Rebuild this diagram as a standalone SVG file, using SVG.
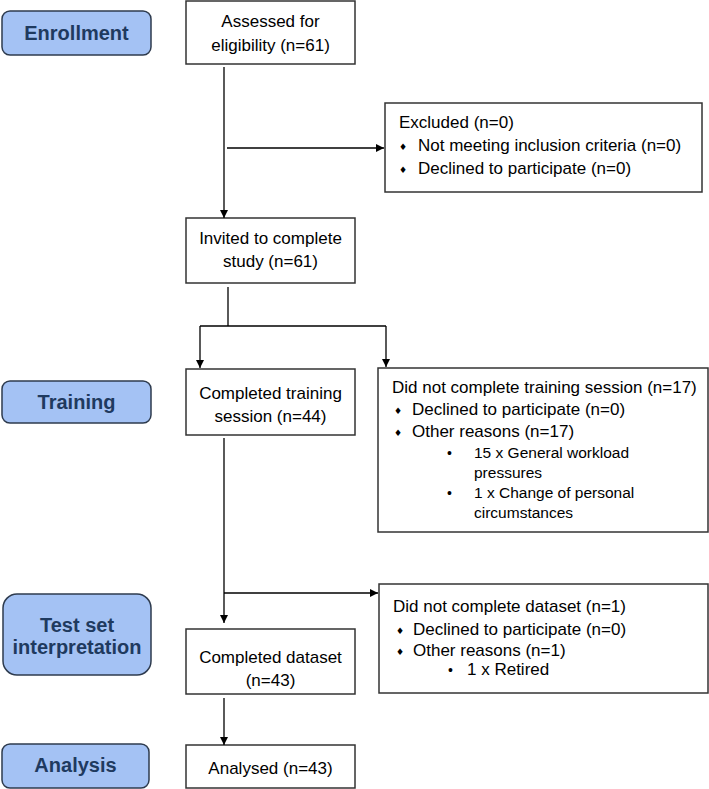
<svg xmlns="http://www.w3.org/2000/svg" width="709" height="789" viewBox="0 0 709 789">
<style>
.bg{fill:#ffffff}
.pill{fill:#a4c2f4;stroke:#2e3b4e;stroke-width:1.5}
.pt{font-family:"Liberation Sans",Arial,sans-serif;font-weight:bold;font-size:20px;fill:#1f3a5f;text-anchor:middle}
.box{fill:#ffffff;stroke:#333333;stroke-width:1.5}
.t{font-family:"Liberation Sans",Arial,sans-serif;font-size:17px;fill:#000000}
.c{text-anchor:middle}
.s{font-size:15.5px}
.dm{font-family:"DejaVu Sans",sans-serif;font-size:9px;fill:#000}
.dot{font-family:"Liberation Sans",Arial,sans-serif;font-size:14px;fill:#000}
.ln{fill:none;stroke:#000000;stroke-width:1.3}
</style>
<defs>
<marker id="ah" viewBox="0 0 10 10" refX="10" refY="5" markerWidth="8" markerHeight="8" markerUnits="userSpaceOnUse" orient="auto">
<path d="M0,0 L10,5 L0,10 z" fill="#000"/>
</marker>
</defs>
<rect class="bg" x="0" y="0" width="709" height="789"/>

<g id="stage-enrollment">
<rect class="pill" x="2" y="11" width="149" height="44" rx="8"/>
<text class="pt" x="76.5" y="40">Enrollment</text>
</g>
<g id="stage-training">
<rect class="pill" x="2" y="381" width="149" height="42" rx="8"/>
<text class="pt" x="76.5" y="409">Training</text>
</g>
<g id="stage-test">
<rect class="pill" x="3" y="594" width="148" height="81" rx="14"/>
<text class="pt" x="77" y="632">Test set</text>
<text class="pt" x="77" y="654">interpretation</text>
</g>
<g id="stage-analysis">
<rect class="pill" x="2" y="744" width="147" height="44" rx="8"/>
<text class="pt" x="75.5" y="772">Analysis</text>
</g>

<g id="assessed">
<rect class="box" x="186" y="1" width="169" height="63"/>
<text class="t c" x="270.5" y="27">Assessed for</text>
<text class="t c" x="270.5" y="51">eligibility (n=61)</text>
</g>
<g id="excluded">
<rect class="box" x="385" y="103" width="317" height="89"/>
<text class="t" x="399" y="128">Excluded (n=0)</text>
<text class="dm" x="399" y="150">♦</text>
<text class="t" x="418" y="151">Not meeting inclusion criteria (n=0)</text>
<text class="dm" x="399" y="173">♦</text>
<text class="t" x="418" y="174">Declined to participate (n=0)</text>
</g>
<g id="invited">
<rect class="box" x="186" y="218" width="169" height="65"/>
<text class="t c" x="270.5" y="244">Invited to complete</text>
<text class="t c" x="270.5" y="267">study (n=61)</text>
</g>
<g id="completed-training">
<rect class="box" x="186" y="369" width="169" height="66"/>
<text class="t c" x="270.5" y="399">Completed training</text>
<text class="t c" x="270.5" y="422">session (n=44)</text>
</g>
<g id="not-training">
<rect class="box" x="378" y="368" width="330" height="164"/>
<text class="t" x="392" y="393">Did not complete training session (n=17)</text>
<text class="dm" x="394" y="414">♦</text>
<text class="t" x="412" y="415">Declined to participate (n=0)</text>
<text class="dm" x="394" y="436">♦</text>
<text class="t" x="412" y="437">Other reasons (n=17)</text>
<text class="dot" x="447" y="458">•</text>
<text class="t s" x="474" y="458">15 x General workload</text>
<text class="t s" x="474" y="478">pressures</text>
<text class="dot" x="447" y="498">•</text>
<text class="t s" x="474" y="498">1 x Change of personal</text>
<text class="t s" x="474" y="518">circumstances</text>
</g>
<g id="not-dataset">
<rect class="box" x="379" y="584" width="329" height="109"/>
<text class="t" x="393" y="612">Did not complete dataset (n=1)</text>
<text class="dm" x="396" y="634">♦</text>
<text class="t" x="413" y="635">Declined to participate (n=0)</text>
<text class="dm" x="396" y="655">♦</text>
<text class="t" x="413" y="656">Other reasons (n=1)</text>
<text class="dot" x="448" y="675">•</text>
<text class="t" x="467" y="675">1 x Retired</text>
</g>
<g id="completed-dataset">
<rect class="box" x="186" y="629" width="169" height="65"/>
<text class="t c" x="270.5" y="663">Completed dataset</text>
<text class="t c" x="270.5" y="686">(n=43)</text>
</g>
<g id="analysed">
<rect class="box" x="186" y="745" width="169" height="43"/>
<text class="t c" x="270.5" y="774">Analysed (n=43)</text>
</g>

<g id="connectors">
<path class="ln" d="M224,67 L224,218" marker-end="url(#ah)"/>
<path class="ln" d="M227,148 L384,148" marker-end="url(#ah)"/>
<path class="ln" d="M228,287 L228,326"/>
<path class="ln" d="M200,326 L386,326"/>
<path class="ln" d="M200,326 L200,368" marker-end="url(#ah)"/>
<path class="ln" d="M386,326 L386,367" marker-end="url(#ah)"/>
<path class="ln" d="M224,438 L224,623" marker-end="url(#ah)"/>
<path class="ln" d="M224,593 L378,593" marker-end="url(#ah)"/>
<path class="ln" d="M224,698 L224,745" marker-end="url(#ah)"/>
</g>
</svg>
